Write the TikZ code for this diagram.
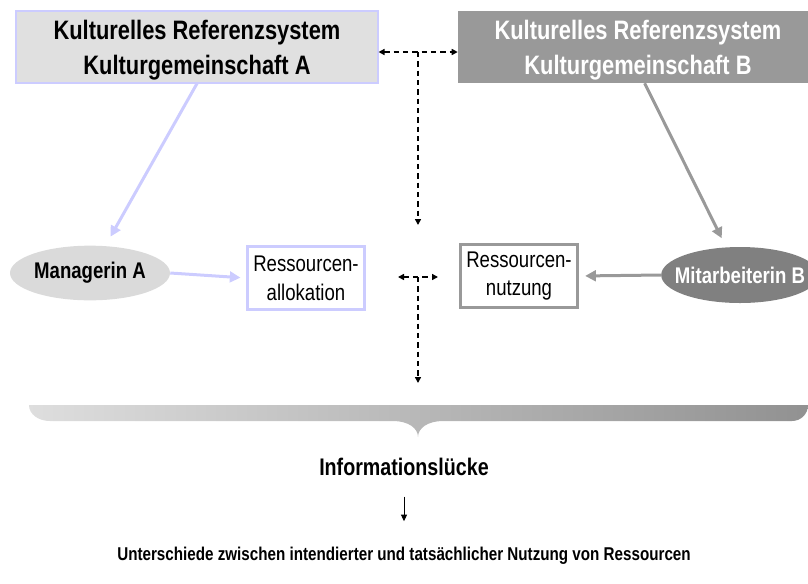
\documentclass[tikz,border=0pt]{standalone}
\usepackage{fontspec}
\setmainfont{Liberation Sans}[FakeStretch=0.82]
\usetikzlibrary{arrows.meta,shapes.geometric}
\definecolor{lav}{HTML}{CCCCFF}
\definecolor{boxA}{HTML}{E0E0E0}
\definecolor{boxB}{HTML}{999999}
\definecolor{ellA}{HTML}{DADADA}
\definecolor{ellB}{HTML}{808080}
\definecolor{linkB}{HTML}{999999}
\tikzset{smalltip/.tip={Triangle[length=4.5pt,width=4.5pt]}}
\begin{document}
\begin{tikzpicture}[x=0.75pt,y=-0.75pt,
  refbox/.style={rectangle, minimum width=271.5pt, minimum height=54pt,
    align=center, inner sep=0pt, font=\bfseries\fontsize{20}{26.5}\selectfont},
  actor/.style={ellipse, minimum width=120pt, minimum height=40pt,
    inner sep=0pt, font=\bfseries\fontsize{17}{20}\selectfont},
  resbox/.style={rectangle, line width=2.25pt, fill=white, minimum width=88pt,
    minimum height=47pt, align=center, inner sep=0pt,
    font=\fontsize{17}{21.5}\selectfont},
  flow/.style={line width=2.25pt, -{Triangle[length=8pt,width=8pt]}},
  dashlink/.style={line width=1.1pt, dash pattern=on 4pt off 3pt},
]
\useasboundingbox (0,0) rectangle (808,583);

% cultural reference systems
\node[refbox, fill=boxA, draw=lav, line width=0.8pt] (A) at (197,47) {};
\node[refbox, fill=boxB, minimum width=270pt] (B) at (638,47) {};
\node[refbox, minimum height=0pt] (At) at (197,50)
  {Kulturelles Referenzsystem\\Kulturgemeinschaft A};
\node[refbox, minimum height=0pt, text=white] (Bt) at (638,50)
  {Kulturelles Referenzsystem\\Kulturgemeinschaft B};

% actors
\node[actor, fill=ellA, minimum height=41pt] (mA) at (90,273) {Managerin A};
\node[actor, fill=ellB, text=white, minimum width=117pt, minimum height=42pt,
  inner xsep=-7pt] (mB) at (740,275) {Mitarbeiterin B};

% resources
\node[resbox, draw=lav] (alloc) at (306,278) {Ressourcen-\\allokation};
\node[resbox, draw=linkB] (nutz) at (519,276) {Ressourcen-\\nutzung};

% solid flows
\draw[flow, lav, shorten >=8pt] (A.south) -- (mA);
\draw[flow, linkB, shorten >=7.5pt] ([xshift=5pt]B.south) -- (mB);
\draw[flow, lav, shorten >=4pt] (mA.east) -- (alloc.west);
\draw[flow, linkB, shorten >=4.5pt] (mB.west) -- (nutz.east);

% dashed relations
\coordinate (tj) at (418,52);
\coordinate (tstem) at (418,225);
\coordinate (ml) at (398,277);
\coordinate (mr) at (438,277);
\coordinate (mj) at (418,277);
\coordinate (mstem) at (418,383);
\draw[dashlink, smalltip-smalltip] (A.east |- tj) -- (B.west |- tj);
\draw[dashlink, -smalltip] (tj) -- (tstem);
\draw[dashlink, smalltip-smalltip] (ml) -- (mr);
\draw[dashlink, -smalltip] (mj) -- (mstem);

% brace
\shade[left color=black!13, right color=black!43]
  (29,405) -- (808,405)
  .. controls (808,414) and (801,421) .. (792,421)
  -- (443,421)
  .. controls (428,421) and (418,428) .. (418,437)
  .. controls (418,428) and (408,421) .. (393,421)
  -- (50,421)
  .. controls (38,421) and (29,414) .. (29,405) -- cycle;

% result
\node[font=\bfseries\fontsize{18}{20}\selectfont] (gap) at (404,467)
  {Informationslücke};
\node[font=\bfseries\fontsize{13.9}{16}\selectfont] (diff) at (404,556)
  {Unterschiede zwischen intendierter und tatsächlicher Nutzung von Ressourcen};
\draw[line width=0.75pt, -{Triangle[length=5pt,width=4.5pt]},
  shorten <=12pt, shorten >=16pt] (gap.south) -- (diff.north);
\end{tikzpicture}
\end{document}
